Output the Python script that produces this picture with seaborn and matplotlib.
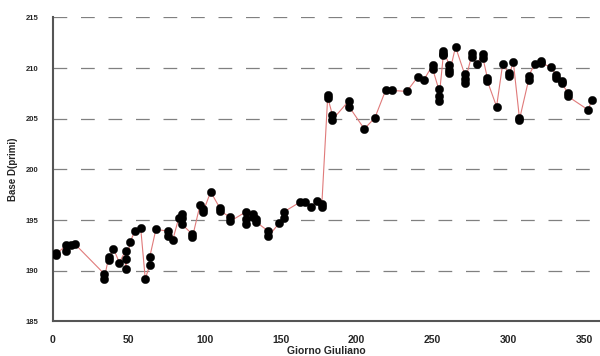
import matplotlib
matplotlib.use("Agg")
import matplotlib.pyplot as plt
from matplotlib.ticker import MultipleLocator
import seaborn as sns
import pandas as pd

days = [2, 2, 9, 9, 12, 15, 34, 34, 37, 37, 40, 44, 48, 48, 48, 51, 54, 58, 61, 64, 64,
        68, 76, 76, 79, 83, 85, 85, 85, 92, 92, 97, 99, 99, 104, 110, 110, 117, 117,
        127, 127, 127, 132, 132, 134, 134, 142, 142, 149, 152, 152, 163, 166, 170, 174,
        177, 177, 181, 181, 184, 184, 195, 195, 205, 212, 219, 223, 233, 240, 244,
        250, 250, 254, 254, 254, 257, 257, 257, 261, 261, 261, 265, 271, 271, 271,
        276, 276, 279, 283, 283, 286, 286, 292, 296, 300, 300, 303, 307, 307, 313, 313,
        317, 321, 321, 328, 331, 331, 335, 335, 339, 339, 352, 355]
values = [191.8, 191.6, 192.5, 192.0, 192.5, 192.6, 189.7, 189.2, 191.4, 191.1, 192.2, 190.8,
          192.0, 191.2, 190.2, 192.8, 193.9, 194.2, 189.2, 190.6, 191.4,
          194.1, 193.9, 193.4, 193.0, 195.2, 195.6, 195.2, 194.6, 193.6, 193.3, 196.5, 196.1, 195.8,
          197.8, 196.2, 195.9, 195.3, 194.9,
          195.8, 195.1, 194.6, 195.6, 195.3, 195.1, 194.8, 193.9, 193.4, 194.7, 195.2, 195.8,
          196.8, 196.8, 196.3, 196.9,
          196.6, 196.3, 207.3, 207.1, 205.4, 204.9, 206.8, 206.2, 204.0, 205.1, 207.8, 207.8,
          207.7, 209.1, 208.8,
          210.3, 209.9, 207.9, 207.2, 206.8, 211.3, 211.4, 211.7, 210.3, 209.8, 209.5, 212.1,
          209.4, 208.9, 208.5,
          211.5, 211.1, 210.4, 211.4, 211.0, 209.0, 208.7, 206.2, 210.4, 209.5, 209.2, 210.6,
          205.1, 204.9, 208.8, 209.2,
          210.4, 210.7, 210.5, 210.1, 209.3, 209.0, 208.7, 208.5, 207.5, 207.2, 205.9, 206.9]

x_ticks = [0, 50, 100, 150, 200, 250, 300, 350]
y_ticks = [185, 190, 195, 200, 205, 210, 215]

df = pd.DataFrame({"Giorno": days, "Base": values})

sns.set_style("white")
plt.rcParams["font.family"] = ["Liberation Sans", "DejaVu Sans"]
plt.rcParams["font.weight"] = "bold"

fig = plt.figure(figsize=(6.0, 3.56), dpi=100)
ax = fig.add_axes([0.0875, 0.097, 0.9125, 0.854])

sns.lineplot(data=df, x="Giorno", y="Base", estimator=None, sort=False,
             color="#e07a7a", linewidth=0.8, ax=ax, zorder=2)
sns.scatterplot(data=df, x="Giorno", y="Base", color="black", s=36,
                edgecolor="black", linewidth=0.3, ax=ax, zorder=3)

ax.set_xlim(0, 360)
ax.set_ylim(185, 215)
ax.set_xticks(x_ticks)
ax.set_yticks(y_ticks)
ax.xaxis.set_minor_locator(MultipleLocator(25))
ax.yaxis.set_minor_locator(MultipleLocator(2.5))

ax.yaxis.grid(True, which="major", color="#808080", linewidth=0.9,
              linestyle=(0, (11, 11)))
ax.xaxis.grid(False)

for s in ["top", "right"]:
    ax.spines[s].set_visible(False)
for s in ["left", "bottom"]:
    ax.spines[s].set_color("#555555")
    ax.spines[s].set_linewidth(1.5)

ax.tick_params(axis="both", which="major", direction="out", length=7, width=1.2,
               color="#333333")
ax.tick_params(axis="both", which="minor", direction="out", length=3.5, width=1.0,
               color="#333333")
ax.tick_params(axis="x", which="major", labelsize=7.5, pad=3)
ax.tick_params(axis="y", which="major", labelsize=5.5, pad=3)
for lbl in ax.get_xticklabels() + ax.get_yticklabels():
    lbl.set_fontweight("bold")

ax.set_xlabel("Giorno Giuliano", fontsize=7.5, fontweight="bold", labelpad=0.5)
ax.set_ylabel("Base D(primi)", fontsize=7, fontweight="bold", labelpad=6)

fig.savefig("out.png", dpi=100)
